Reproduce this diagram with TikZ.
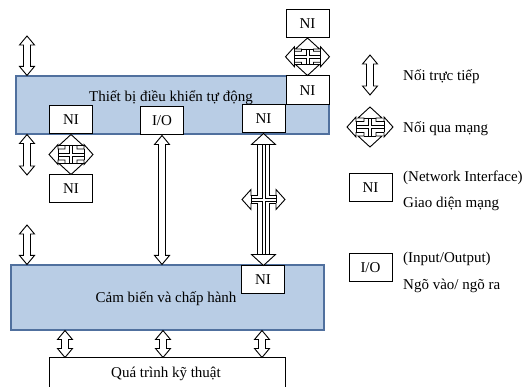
\documentclass[tikz,border=0pt]{standalone}
\usepackage{fontspec}
\setmainfont{Liberation Serif}
\usetikzlibrary{calc}
\definecolor{boxfill}{RGB}{185,205,229}
\definecolor{boxline}{RGB}{80,112,158}
\newcommand\dirarr[2]{%
 \draw[arr] let \p1=#1, \p2=#2 in
 (\x1,\y1) -- (\x1+7.5pt,\y1-9pt) -- (\x1+3.5pt,\y1-9pt) -- (\x1+3.5pt,\y2+9pt) -- (\x1+7.5pt,\y2+9pt) -- (\x1,\y2) -- (\x1-7.5pt,\y2+9pt) -- (\x1-3.5pt,\y2+9pt) -- (\x1-3.5pt,\y1-9pt) -- (\x1-7.5pt,\y1-9pt) -- cycle;}
\newcommand\quadarr[4]{%
 \draw[arr] let \p1=#1, \p2=#2, \p3=($#1!0.5!#2$) in
 (\x1,\y1) -- (\x1+12pt,\y1-11pt) -- (\x1+6pt,\y1-11pt) -- (\x1+6pt,\y3+#4) -- (\x1+#3-9pt,\y3+#4) -- (\x1+#3-9pt,\y3+10pt) -- (\x1+#3,\y3) -- (\x1+#3-9pt,\y3-10pt) -- (\x1+#3-9pt,\y3-#4) -- (\x1+6pt,\y3-#4) -- (\x1+6pt,\y2+11pt) -- (\x1+12pt,\y2+11pt) -- (\x1,\y2) -- (\x1-12pt,\y2+11pt) -- (\x1-6pt,\y2+11pt) -- (\x1-6pt,\y3-#4) -- (\x1-#3+9pt,\y3-#4) -- (\x1-#3+9pt,\y3-10pt) -- (\x1-#3,\y3) -- (\x1-#3+9pt,\y3+10pt) -- (\x1-#3+9pt,\y3+#4) -- (\x1-6pt,\y3+#4) -- (\x1-6pt,\y1-11pt) -- (\x1-12pt,\y1-11pt) -- cycle;
 \draw[arrl] let \p1=#1, \p2=#2, \p3=($#1!0.5!#2$) in
 (\x1-6pt,\y1-11pt) -- (\x1+6pt,\y1-11pt)
 (\x1-6pt,\y2+11pt) -- (\x1+6pt,\y2+11pt)
 (\x1-#3+9pt,\y3+#4) -- (\x1-#3+9pt,\y3-#4)
 (\x1+#3-9pt,\y3+#4) -- (\x1+#3-9pt,\y3-#4)
 (\x1-1.5pt,\y1-11pt) -- (\x1-1.5pt,\y3+1.5pt) -- (\x1-#3+9pt,\y3+1.5pt)
 (\x1-#3+9pt,\y3-1.5pt) -- (\x1-1.5pt,\y3-1.5pt) -- (\x1-1.5pt,\y2+11pt)
 (\x1+1.5pt,\y2+11pt) -- (\x1+1.5pt,\y3-1.5pt) -- (\x1+#3-9pt,\y3-1.5pt)
 (\x1+#3-9pt,\y3+1.5pt) -- (\x1+1.5pt,\y3+1.5pt) -- (\x1+1.5pt,\y1-11pt);}
\begin{document}
\begin{tikzpicture}[x=1pt,y=-1pt,
  txt/.style={font=\fontsize{15}{18}\selectfont, inner sep=0pt},
  bluebox/.style={draw=boxline, fill=boxfill, line width=1.1pt, inner sep=0pt},
  wbox/.style={draw=black, fill=white, line width=1pt, inner sep=0pt, font=\fontsize{15}{18}\selectfont},
  nibox/.style={wbox, minimum width=43pt, minimum height=28pt},
  arr/.style={draw=black, fill=white, line width=0.9pt, line join=miter},
  arrl/.style={draw=black, line width=0.8pt}]
\useasboundingbox (0,0) rectangle (523,387);
% main boxes
\node[bluebox, minimum width=313pt, minimum height=58pt] (ctrl) at (172.5,105) {};
\node[txt, anchor=base] (ctrltxt) at (171,102) {Thiết bị điều khiển tự động};
\node[bluebox, minimum width=313pt, minimum height=65pt] (sensor) at (167.5,297.5) {};
\node[txt, anchor=base] (sensortxt) at (166,302.5) {Cảm biến và chấp hành};
\node[wbox, minimum width=236pt, minimum height=30pt] (proc) at (167,373) {};
\node[txt, anchor=base] (proctxt) at (166,378) {Quá trình kỹ thuật};
% interface boxes
\node[nibox] (niT) at (307.5,23.5) {NI};
\node[nibox, minimum height=29pt] (niTR) at (307.5,90.5) {NI};
\node[nibox] (niL) at (71,120) {NI};
\node[nibox] (io) at (162,121) {I/O};
\node[nibox] (niM) at (263.5,119) {NI};
\node[nibox] (niLB) at (71,189) {NI};
\node[nibox] (niS) at (263,280) {NI};
% free ends of direct connections
\coordinate (a1t) at (27,36);
\coordinate (a2b) at (27,175);
\coordinate (a3t) at (27,225);
\coordinate (b1) at (65,344);
\coordinate (b2) at (163,344);
\coordinate (b3) at (262,344);
% direct connections
\dirarr{(a1t)}{(a1t |- ctrl.north)}
\dirarr{(a2b |- ctrl.south)}{(a2b)}
\dirarr{(a3t)}{(a3t |- sensor.north)}
\dirarr{(b1 |- sensor.south)}{(b1 |- proc.north)}
\dirarr{(b2 |- sensor.south)}{(b2 |- proc.north)}
\dirarr{(b3 |- sensor.south)}{(b3 |- proc.north)}
\dirarr{(io.south)}{(io.south |- sensor.north)}
% network connections
\quadarr{(niT.south)}{(niTR.north)}{22pt}{5.5pt}
\quadarr{(niL.south)}{(niLB.north)}{22pt}{5.5pt}
\quadarr{(niM.south)}{(niS.north)}{21.5pt}{4pt}
% legend
\coordinate (lgAt) at (370,55);
\coordinate (lgAb) at (370,95);
\coordinate (lgQt) at (370,107);
\coordinate (lgQb) at (370,147);
\dirarr{(lgAt)}{(lgAb)}
\quadarr{(lgQt)}{(lgQb)}{23pt}{5.5pt}
\node[nibox] (lgNI) at (370.5,188) {NI};
\node[nibox] (lgIO) at (370.5,268) {I/O};
\node[txt, anchor=base west] (t1) at (403,80.5) {Nối trực tiếp};
\node[txt, anchor=base west] (t2) at (403,133) {Nối qua mạng};
\node[txt, anchor=base west] (t3) at (403,181.5) {(Network Interface)};
\node[txt, anchor=base west] (t4) at (403,208) {Giao diện mạng};
\node[txt, anchor=base west] (t5) at (403,263) {(Input/Output)};
\node[txt, anchor=base west] (t6) at (403,290) {Ngõ vào/ ngõ ra};
\end{tikzpicture}
\end{document}
